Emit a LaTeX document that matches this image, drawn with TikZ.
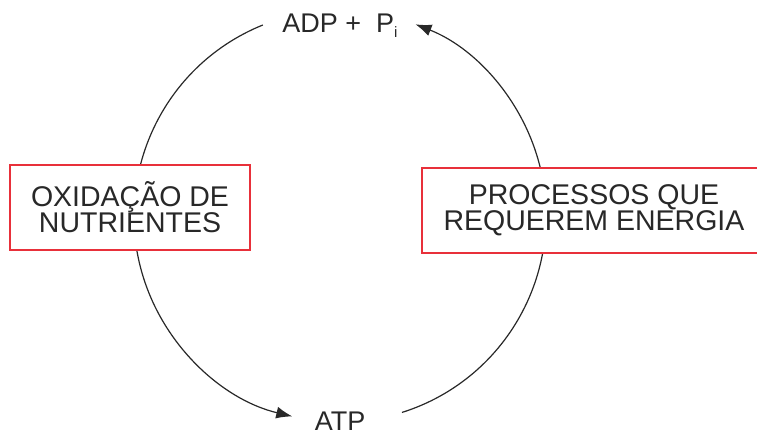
\documentclass[tikz,border=0pt]{standalone}
\usepackage{fontspec}
\setmainfont{Liberation Sans}
\usetikzlibrary{arrows.meta}
\definecolor{boxred}{RGB}{232,48,58}
\definecolor{ink}{RGB}{40,40,40}
\begin{document}
\begin{tikzpicture}[x=1pt,y=1pt,
  lbl/.style={font=\fontsize{27}{27}\selectfont, inner sep=0pt, anchor=base, text=ink},
  redbox/.style={draw=boxred, line width=1.5pt, fill=white, align=center, text=ink,
    font=\fontsize{28.5}{26}\selectfont, minimum height=85pt},
  cyc/.style={draw=ink, line width=1.2pt, -{Latex[length=16pt,width=12pt]}}]
\useasboundingbox (0,0) rectangle (757,437);
\coordinate (C) at (340,221);
\coordinate (lstart) at ([shift={(112:206)}]C);
\coordinate (rstart) at ([shift={(287.5:206)}]C);
\draw[cyc] (lstart) arc[start angle=112, end angle=256.6, radius=206];
\draw[cyc] (rstart) arc[start angle=287.5, end angle=428.5, radius=206];
\node[lbl] (adp) at (340,404) {ADP +\ \ P\raisebox{-5pt}{\fontsize{15}{15}\selectfont i}};
\node[lbl] (atp) at (340,7) {ATP};
\node[redbox, minimum width=240pt] (ox) at (130,229.5) {OXIDAÇÃO DE\\NUTRIENTES};
\node[redbox, minimum width=344pt] (proc) at (594,226.5) {PROCESSOS QUE\\REQUEREM ENERGIA};
\end{tikzpicture}
\end{document}
